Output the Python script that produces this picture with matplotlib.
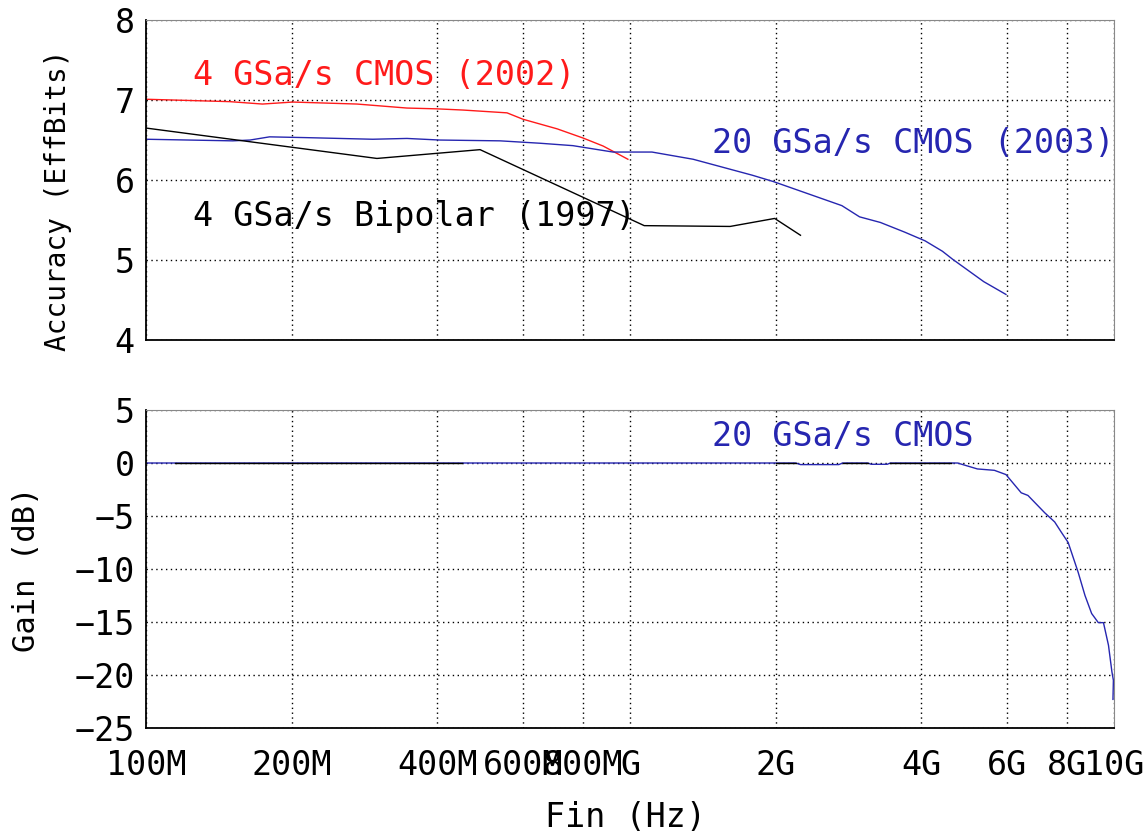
import numpy as np
import matplotlib.pyplot as plt
from matplotlib.ticker import FixedLocator, FixedFormatter, NullLocator

plt.rcParams['font.family'] = ['DejaVu Sans Mono', 'DejaVu Sans']

# accuracy curves (Hz, effective bits)
cmos02_f = [1.0e8, 1.49e8, 1.74e8, 2.01e8, 2.73e8, 3.46e8, 3.99e8, 4.52e8, 5.57e8,
            6.01e8, 7.07e8, 8.0e8, 8.8e8, 9.9e8]
cmos02_b = [7.01, 6.98, 6.95, 6.975, 6.95, 6.90, 6.89, 6.875, 6.84,
            6.76, 6.64, 6.525, 6.425, 6.26]

cmos03_f = [1.0e8, 1.51e8, 1.64e8, 1.80e8, 2.15e8, 2.94e8, 3.46e8, 4.05e8, 5.39e8,
            6.52e8, 7.62e8, 9.22e8, 1.11e9, 1.35e9, 1.79e9, 1.98e9, 2.74e9, 2.98e9,
            3.29e9, 3.69e9, 4.07e9, 4.42e9, 4.64e9, 5.38e9, 5.98e9]
cmos03_b = [6.51, 6.49, 6.50, 6.54, 6.53, 6.51, 6.52, 6.50, 6.49,
            6.46, 6.43, 6.35, 6.35, 6.26, 6.06, 5.98, 5.68, 5.54,
            5.47, 5.35, 5.24, 5.11, 5.01, 4.73, 4.57]

bip97_f = [1.0e8, 3.0e8, 4.9e8, 1.07e9, 1.61e9, 1.99e9, 2.25e9]
bip97_b = [6.65, 6.27, 6.38, 5.43, 5.42, 5.52, 5.31]

# gain curve (Hz, dB)
gain_f = [1.0e8, 2.2e9, 2.25e9, 2.7e9, 2.75e9, 3.1e9, 3.15e9, 3.4e9, 3.45e9, 4.75e9,
          5.22e9, 5.66e9, 5.98e9, 6.43e9, 6.64e9, 7.19e9, 7.54e9, 7.79e9, 8.04e9,
          8.43e9, 8.71e9, 8.99e9, 9.28e9, 9.51e9, 9.74e9, 9.90e9, 9.97e9, 9.95e9]
gain_db = [0.0, 0.0, -0.15, -0.15, 0.0, 0.0, -0.12, -0.12, 0.0, 0.0,
           -0.56, -0.69, -1.09, -2.81, -3.06, -4.69, -5.56, -6.56, -7.5,
           -10.3, -12.5, -14.2, -15.06, -15.06, -17.2, -19.7, -20.5, -22.3]
ref_f = [1.15e8, 4.5e8, np.nan, 2.0e9, 2.2e9, np.nan, 2.75e9, 3.1e9, np.nan, 3.45e9, 4.6e9]
ref_db = [0, 0, np.nan, 0, 0, np.nan, 0, 0, np.nan, 0, 0]

xticks = [1e8, 2e8, 4e8, 6e8, 8e8, 1e9, 2e9, 4e9, 6e9, 8e9, 1e10]
xlabels = ['100M', '200M', '400M', '600M', '800M', 'G', '2G', '4G', '6G', '8G', '10G']

red = '#ff1a1a'
blue = '#2626b0'

fig = plt.figure(figsize=(11.46, 8.32), dpi=100)
ax1 = fig.add_axes([0.1274, 0.5913, 0.8447, 0.3846])
ax2 = fig.add_axes([0.1274, 0.125, 0.8447, 0.3822])

ax1.plot(cmos02_f, cmos02_b, color=red, lw=1.0)
ax1.plot(cmos03_f, cmos03_b, color=blue, lw=1.0)
ax1.plot(bip97_f, bip97_b, color='black', lw=1.0)
ax1.text(1.25e8, 7.31, '4 GSa/s CMOS (2002)', color=red, fontsize=24, va='center')
ax1.text(1.48e9, 6.46, '20 GSa/s CMOS (2003)', color=blue, fontsize=24, va='center')
ax1.text(1.25e8, 5.54, '4 GSa/s Bipolar (1997)', color='black', fontsize=24, va='center')

ax2.plot(gain_f, gain_db, color=blue, lw=1.0)
ax2.plot(ref_f, ref_db, color='black', lw=1.0)
ax2.text(1.48e9, 2.5, '20 GSa/s CMOS', color=blue, fontsize=24, va='center')

for ax in (ax1, ax2):
    ax.set_xscale('log')
    ax.set_xlim(1e8, 1e10)
    ax.xaxis.set_major_locator(FixedLocator(xticks))
    ax.xaxis.set_minor_locator(NullLocator())
    ax.grid(True, color='black', linestyle=(0, (1, 2.5)), linewidth=1.0)
    ax.tick_params(length=0, labelsize=24)
    ax.tick_params(axis='x', pad=15)
    ax.tick_params(axis='y', pad=8)
    ax.spines['left'].set_linewidth(1.3)
    ax.spines['bottom'].set_linewidth(1.3)
    ax.spines['top'].set_color('#888888')
    ax.spines['right'].set_color('#888888')

ax1.set_ylim(4, 8)
ax1.set_yticks([4, 5, 6, 7, 8])
ax1.set_xticklabels([])
ax1.set_ylabel('Accuracy (EffBits)', fontsize=20)
ax1.yaxis.set_label_coords(-0.0764, 0.4375)

ax2.set_ylim(-25, 5)
ax2.set_yticks([-25, -20, -15, -10, -5, 0, 5])
ax2.xaxis.set_major_formatter(FixedFormatter(xlabels))
ax2.set_ylabel('Gain (dB)', fontsize=22)
ax2.yaxis.set_label_coords(-0.108, 0.5)
ax2.set_xlabel('Fin (Hz)', fontsize=24)
ax2.xaxis.set_label_coords(0.495, -0.228)

fig.savefig('out.png', dpi=100)
